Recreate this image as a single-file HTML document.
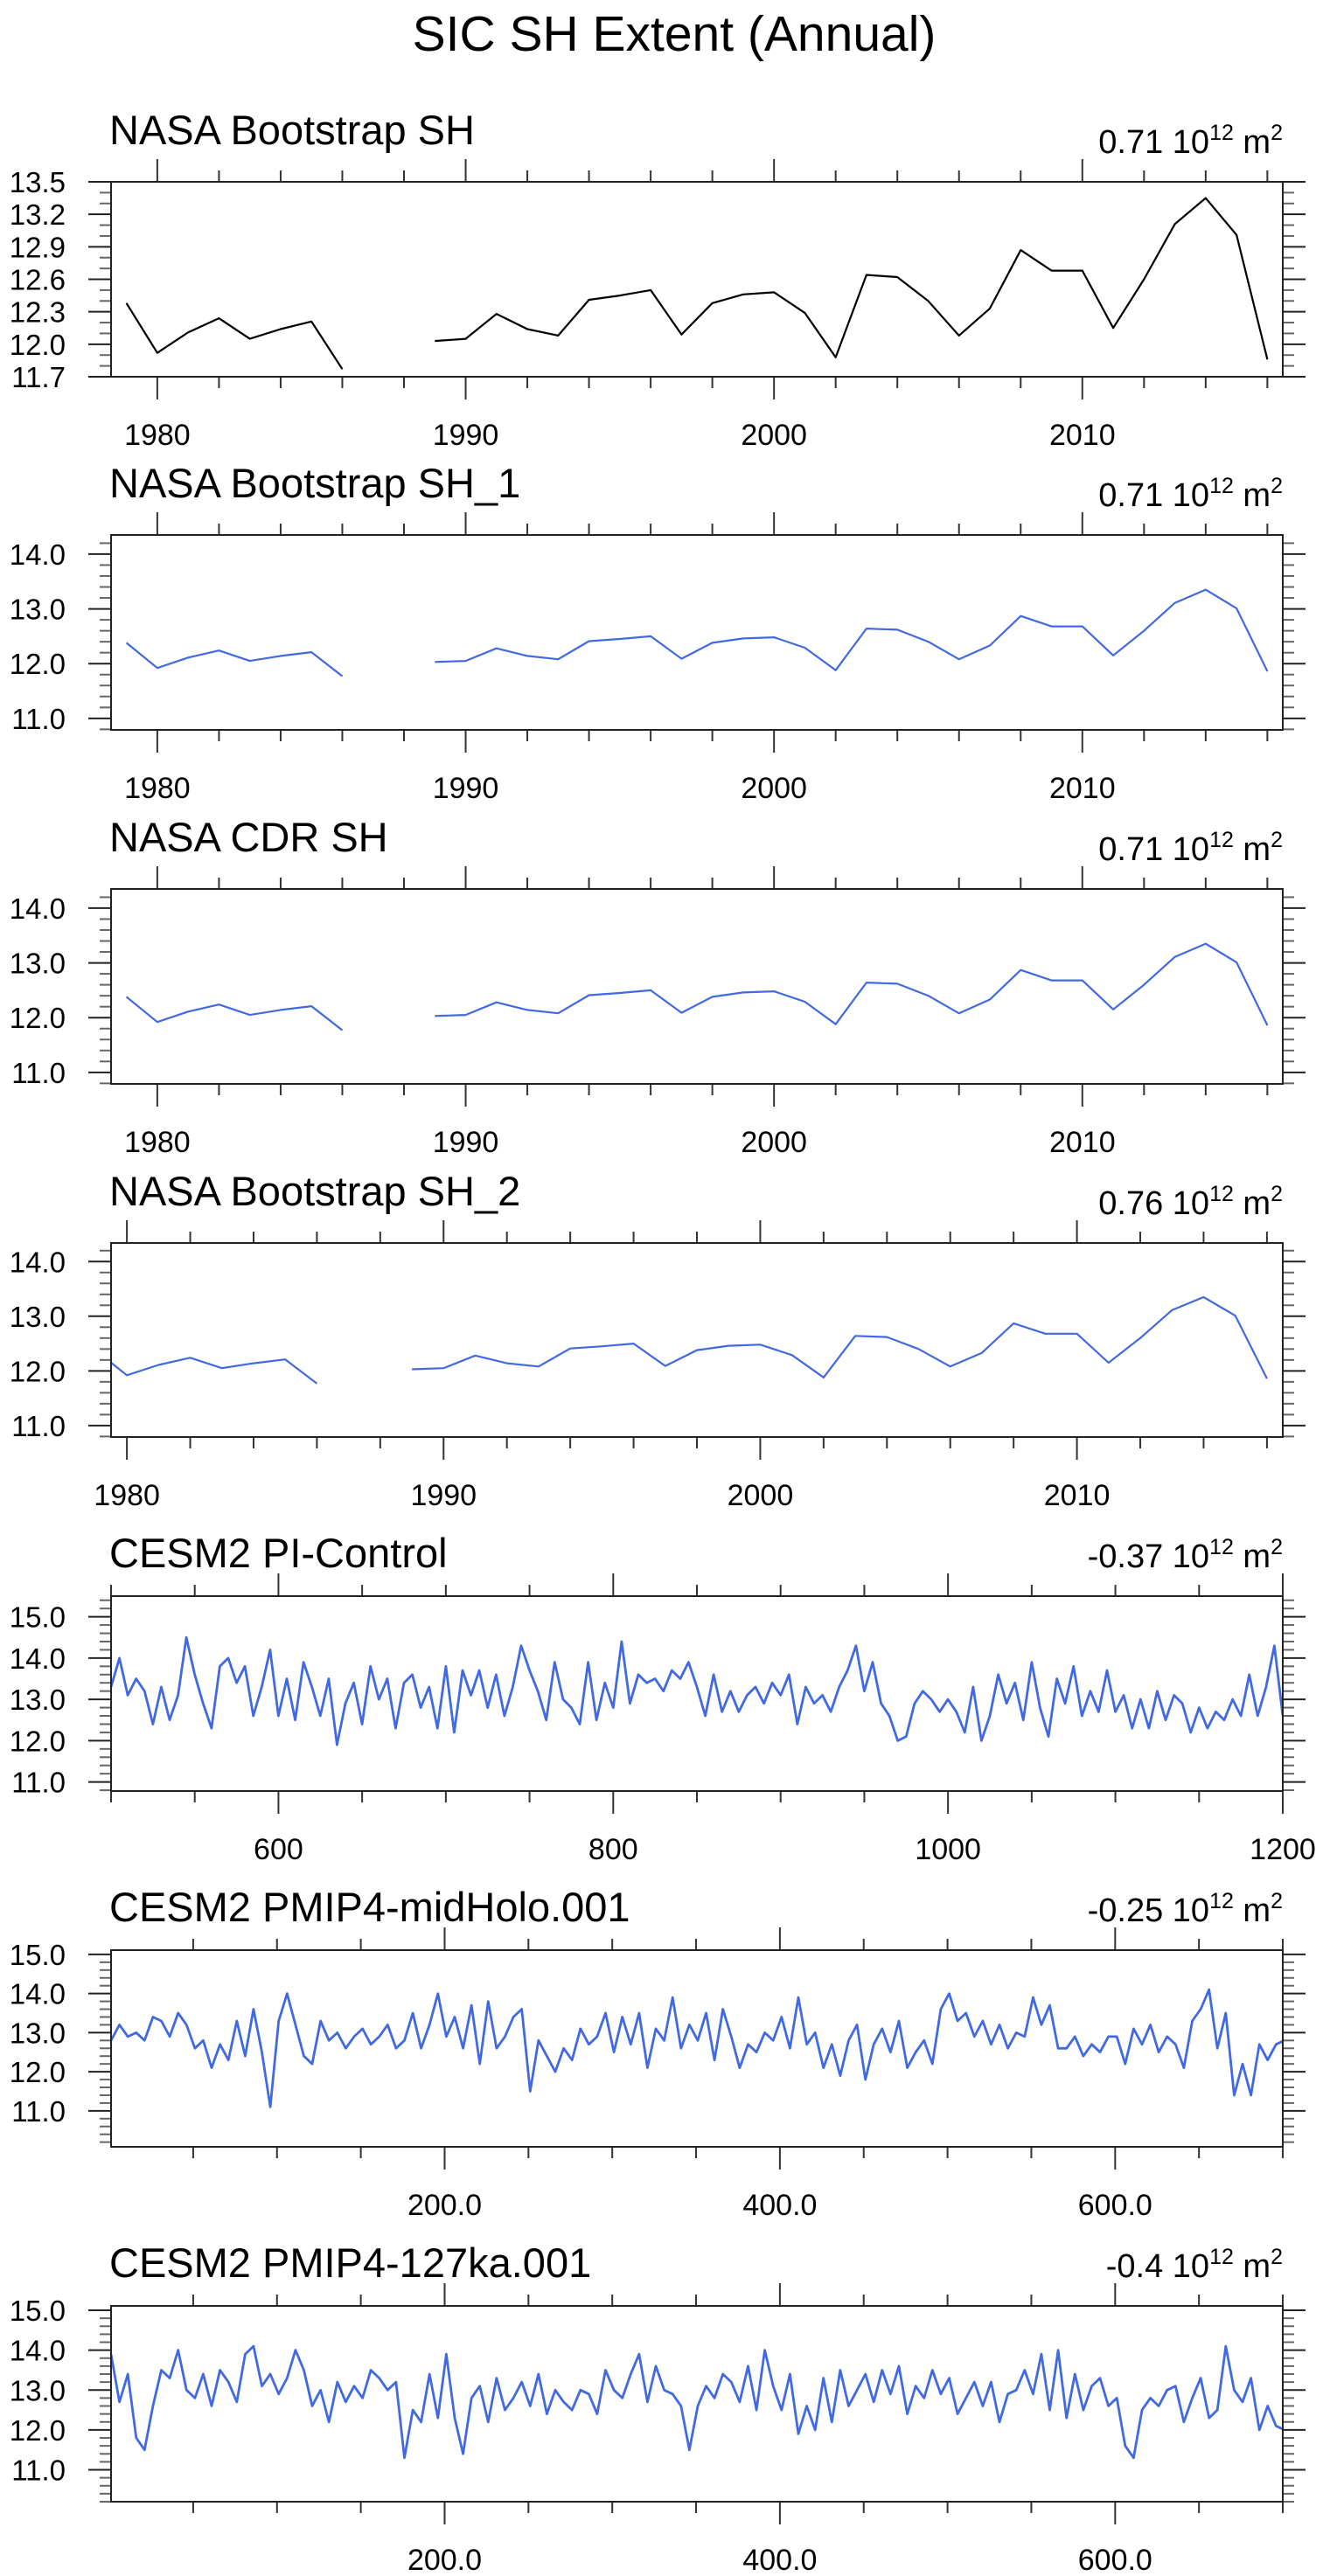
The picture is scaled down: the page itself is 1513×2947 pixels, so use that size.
<!DOCTYPE html>
<html><head><meta charset="utf-8"><style>
html,body{margin:0;padding:0;background:#fff;}
svg{display:block;font-family:"Liberation Sans",sans-serif;}
</style></head><body>
<svg id="chart" width="1513" height="2947" viewBox="0 0 1513 2947" xmlns="http://www.w3.org/2000/svg">
<rect width="1513" height="2947" fill="#fff"/>
<text x="771" y="58" font-size="57" text-anchor="middle" fill="#000">SIC SH Extent (Annual)</text>
</svg>
<script>
// ---- data ----
const obsYears = [1979,1980,1981,1982,1983,1984,1985,1986,1987,1988,1989,1990,1991,1992,1993,1994,1995,1996,1997,1998,1999,2000,2001,2002,2003,2004,2005,2006,2007,2008,2009,2010,2011,2012,2013,2014,2015,2016];
const obsValues = [12.38,11.92,12.11,12.24,12.05,12.14,12.21,11.77,null,null,12.03,12.05,12.28,12.14,12.08,12.41,12.45,12.50,12.09,12.38,12.46,12.48,12.29,11.88,12.64,12.62,12.40,12.08,12.33,12.87,12.68,12.68,12.15,12.60,13.11,13.35,13.01,11.86];
const piStart = 500, piStep = 5;
const piValues = [13.3,14.0,13.1,13.5,13.2,12.4,13.3,12.5,13.1,14.5,
13.6,12.9,12.3,13.8,14.0,13.4,13.8,12.6,13.3,14.2,
12.6,13.5,12.5,13.9,13.3,12.6,13.5,11.9,12.9,13.4,
12.4,13.8,13.0,13.5,12.3,13.4,13.6,12.8,13.3,12.3,
13.8,12.2,13.7,13.1,13.7,12.8,13.6,12.6,13.3,14.3,
13.7,13.2,12.5,13.9,13.0,12.8,12.4,13.9,12.5,13.4,
12.8,14.4,12.9,13.6,13.4,13.5,13.2,13.7,13.5,13.9,
13.3,12.6,13.6,12.7,13.2,12.7,13.1,13.3,12.9,13.4,
13.1,13.6,12.4,13.3,12.9,13.1,12.7,13.3,13.7,14.3,
13.2,13.9,12.9,12.6,12.0,12.1,12.9,13.2,13.0,12.7,
13.0,12.7,12.2,13.3,12.0,12.6,13.6,12.9,13.4,12.5,
13.9,12.8,12.1,13.5,12.9,13.8,12.6,13.2,12.7,13.7,
12.7,13.1,12.3,13.0,12.3,13.2,12.5,13.1,12.9,12.2,
12.8,12.3,12.7,12.5,13.0,12.6,13.6,12.6,13.3,14.3,12.6];
const mhStart = 1, mhStep = 5;
const mhValues = [12.8,13.2,12.9,13.0,12.8,13.4,13.3,12.9,13.5,13.2,
12.6,12.8,12.1,12.7,12.3,13.3,12.4,13.6,12.5,11.1,
13.3,14.0,13.2,12.4,12.2,13.3,12.8,13.0,12.6,12.9,
13.1,12.7,12.9,13.2,12.6,12.8,13.5,12.6,13.2,14.0,
12.9,13.4,12.6,13.7,12.2,13.8,12.6,12.9,13.4,13.6,
11.5,12.8,12.4,12.0,12.6,12.3,13.1,12.7,12.9,13.5,
12.5,13.4,12.7,13.5,12.1,13.1,12.8,13.9,12.6,13.2,
12.8,13.5,12.3,13.6,12.9,12.1,12.7,12.5,13.0,12.8,
13.4,12.6,13.9,12.7,13.0,12.1,12.7,11.9,12.8,13.2,
11.8,12.7,13.1,12.5,13.3,12.1,12.5,12.8,12.2,13.6,
14.0,13.3,13.5,12.9,13.3,12.7,13.2,12.6,13.0,12.9,
13.9,13.2,13.7,12.6,12.6,12.9,12.4,12.7,12.5,12.9,
12.9,12.2,13.1,12.7,13.2,12.5,12.9,12.7,12.1,13.3,
13.6,14.1,12.6,13.5,11.4,12.2,11.4,12.7,12.3,12.7,12.8];
const kaStart = 1, kaStep = 5;
const kaValues = [13.9,12.7,13.4,11.8,11.5,12.6,13.5,13.3,14.0,13.0,
12.8,13.4,12.6,13.5,13.2,12.7,13.9,14.1,13.1,13.4,
12.9,13.3,14.0,13.5,12.6,13.0,12.2,13.2,12.7,13.1,
12.8,13.5,13.3,13.0,13.2,11.3,12.5,12.2,13.4,12.3,
13.9,12.3,11.4,12.8,13.1,12.2,13.3,12.5,12.8,13.2,
12.6,13.4,12.4,13.0,12.7,12.5,13.0,12.9,12.4,13.5,
13.0,12.8,13.4,13.9,12.7,13.6,13.0,12.9,12.6,11.5,
12.6,13.1,12.8,13.4,13.2,12.7,13.6,12.5,14.0,13.1,
12.5,13.4,11.9,12.6,12.0,13.3,12.2,13.5,12.6,13.0,
13.4,12.7,13.5,12.9,13.6,12.4,13.1,12.8,13.5,12.9,
13.3,12.4,12.8,13.2,12.6,13.2,12.2,12.9,13.0,13.5,
12.9,13.9,12.5,14.0,12.3,13.4,12.5,13.1,13.3,12.6,
12.8,11.6,11.3,12.5,12.8,12.6,13.0,13.1,12.2,12.8,
13.3,12.3,12.5,14.1,13.0,12.7,13.3,12.0,12.6,12.1,12.0];
const panelTitles = ["NASA Bootstrap SH","NASA Bootstrap SH_1","NASA CDR SH","NASA Bootstrap SH_2","CESM2 PI-Control","CESM2 PMIP4-midHolo.001","CESM2 PMIP4-127ka.001"];
const trendLabels = ["0.71","0.71","0.71","0.76","-0.37","-0.25","-0.4"];

const NS = "http://www.w3.org/2000/svg";
const svg = document.getElementById('chart');
function mk(tag, attrs, parent){const e=document.createElementNS(NS,tag);for(const k in attrs)e.setAttribute(k,attrs[k]);(parent||svg).appendChild(e);return e;}
const L=127, R=1467;
function xsFrom(start, step, n){const a=[];for(let i=0;i<n;i++)a.push(start+i*step);return a;}

const panels = [
 {top:208,bot:431,x0:1978.5,x1:2016.5,y0:11.7,y1:13.5,yMaj:0.3,yMin:0.1,xMaj:10,xMin:2,xFirst:1980,xs:obsYears,ys:obsValues,color:"#000",fmt:v=>String(v),rOff:10,sw:2.2},
 {top:612,bot:835,x0:1978.5,x1:2016.5,y0:10.79,y1:14.35,yMaj:1,yMin:0.2,xMaj:10,xMin:2,xFirst:1980,xs:obsYears,ys:obsValues,color:"#4169e1",fmt:v=>String(v),rOff:10,sw:2.2},
 {top:1017,bot:1240,x0:1978.5,x1:2016.5,y0:10.79,y1:14.35,yMaj:1,yMin:0.2,xMaj:10,xMin:2,xFirst:1980,xs:obsYears,ys:obsValues,color:"#4169e1",fmt:v=>String(v),rOff:10,sw:2.2},
 {top:1422,bot:1644,x0:1979.5,x1:2016.5,y0:10.79,y1:14.34,yMaj:1,yMin:0.2,xMaj:10,xMin:2,xFirst:1980,xs:obsYears,ys:obsValues,color:"#4169e1",fmt:v=>String(v),rOff:10,sw:2.2},
 {top:1826,bot:2049,x0:500,x1:1200,y0:10.78,y1:15.5,yMaj:1,yMin:0.2,xMaj:200,xMin:50,xFirst:600,xs:xsFrom(piStart,piStep,piValues.length),ys:piValues,color:"#4169e1",fmt:v=>String(v),rOff:0,sw:2.8},
 {top:2231,bot:2456,x0:1,x1:700,y0:10.08,y1:15.11,yMaj:1,yMin:0.2,xMaj:200,xMin:50,xFirst:200,xs:xsFrom(mhStart,mhStep,mhValues.length),ys:mhValues,color:"#4169e1",fmt:v=>v.toFixed(1),rOff:0,sw:2.8},
 {top:2638,bot:2862,x0:1,x1:700,y0:10.2,y1:15.11,yMaj:1,yMin:0.2,xMaj:200,xMin:50,xFirst:200,xs:xsFrom(kaStart,kaStep,kaValues.length),ys:kaValues,color:"#4169e1",fmt:v=>v.toFixed(1),rOff:0,sw:2.8}
];

panels.forEach((p,pi)=>{
  const g=mk('g',{});
  
  
  const X=v=>L+(v-p.x0)/(p.x1-p.x0)*(R-L);
  const Y=v=>p.bot-(v-p.y0)/(p.y1-p.y0)*(p.bot-p.top);
  const cid='clip'+pi;
  const cp=mk('clipPath',{id:cid},g); mk('rect',{x:L,y:p.top,width:R-L,height:p.bot-p.top},cp);
  const t=mk('text',{x:125,y:p.top-43+(p.rOff?0:10),'font-size':47,fill:'#000'},g);
  t.textContent=panelTitles[pi];
  
  
  const rt=mk('text',{x:R,y:p.top-33,'font-size':38,fill:'#000','text-anchor':'end'},g);
  
  
  const s1=mk('tspan',{},rt); s1.textContent=trendLabels[pi]+' 10';
  const s2=mk('tspan',{'font-size':25,dy:-15},rt); s2.textContent='12';
  const s3=mk('tspan',{dy:15},rt); s3.textContent=' m';
  const s4=mk('tspan',{'font-size':25,dy:-15},rt); s4.textContent='2';
  const yt=mk('g',{stroke:'#333','stroke-width':2},g);
  
  
  const nmin=Math.ceil(p.y0/p.yMin-1e-6), nmax=Math.floor(p.y1/p.yMin+1e-6);
  for(let k=nmin;k<=nmax;k++){
    const v=k*p.yMin; const ratio=v/p.yMaj; const major=Math.abs(ratio-Math.round(ratio))<1e-6;
    const len=major?26:13; const y=Y(v);
    mk('line',{x1:L-len,x2:L,y1:y,y2:y,stroke:major?'#222':'#666'},yt);
    mk('line',{x1:R,x2:R+len,y1:y,y2:y,stroke:major?'#222':'#666'},yt);
    if(major){const lb=mk('text',{x:75,y:y+12,'font-size':33,'text-anchor':'end',fill:'#000',stroke:'none'},g);
      lb.textContent=v.toFixed(1);
      
      }
  }
  const xt=mk('g',{stroke:'#333','stroke-width':2},g);
  
  
  const m0=Math.ceil(p.x0/p.xMin-1e-6), m1=Math.floor(p.x1/p.xMin+1e-6);
  for(let k=m0;k<=m1;k++){
    const v=k*p.xMin; const major=((v-p.xFirst)%p.xMaj+p.xMaj)%p.xMaj===0;
    const len=major?26:13; const x=X(v);
    mk('line',{x1:x,x2:x,y1:p.top-len,y2:p.top},xt);
    mk('line',{x1:x,x2:x,y1:p.bot,y2:p.bot+len},xt);
    if(major){const lb=mk('text',{x:x,y:p.bot+78,'font-size':34,'text-anchor':'middle',fill:'#000',stroke:'none'},g);
      lb.textContent=p.fmt(v);
      
      }
  }
  let d='', pen=false;
  p.xs.forEach((xv,i)=>{const v=p.ys[i]; if(v===null){pen=false;return;} d+=(pen?'L':'M')+X(xv).toFixed(1)+' '+Y(v).toFixed(1); pen=true;});
  const path=mk('path',{d:d,fill:'none',stroke:p.color,'stroke-width':p.sw,'stroke-linejoin':'round','clip-path':'url(#'+cid+')'},g);
  
  
  const box=mk('rect',{x:L,y:p.top,width:R-L,height:p.bot-p.top,fill:'none',stroke:'#222','stroke-width':2},g);
  
  
});
</script>
</body></html>
